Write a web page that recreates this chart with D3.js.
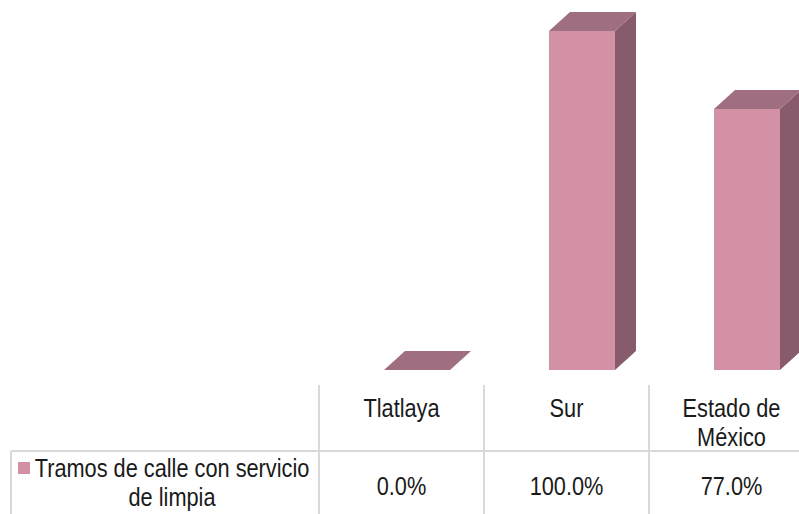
<!DOCTYPE html>
<html>
<head>
<meta charset="utf-8">
<script src="https://cdn.jsdelivr.net/npm/d3@7"></script>
<style>
  html, body { margin: 0; padding: 0; background: #ffffff; }
  svg { display: block; }
  text { font-family: "Liberation Sans", Arial, sans-serif; fill: #1a1a1a; }
</style>
</head>
<body>
<script>
// Categories, series and label text
const categories = ["Tlatlaya", "Sur", "Estado de México"];
const headerLines = [["Tlatlaya"], ["Sur"], ["Estado de", "México"]];
const seriesName = ["Tramos de calle con servicio", "de limpia"];
const values = [0.0, 1.0, 0.77];

const W = 799, H = 514;
const svg = d3.select("body").append("svg").attr("width", W).attr("height", H);

// Table columns (one per category)
const xCol = d3.scaleBand().domain(categories).range([319, 814]);
// Bars sit inside each column, shifted by the 3D floor offset
const barOffset = 65, barW = 66;
const y = d3.scaleLinear().domain([0, 1]).range([370, 31]);
const depth = { dx: 21, dy: -19 };

const cFront = "#d391a6", cTop = "#9f6e80", cSide = "#875b6b";

const bars = svg.append("g").selectAll("g").data(categories).join("g");
bars.each(function (c, i) {
  const g = d3.select(this);
  const x0 = xCol(c) + barOffset, x1 = x0 + barW;
  const yt = y(values[i]), yb = y(0);
  const { dx, dy } = depth;
  if (yb - yt > 0.5) {
    g.append("path")
      .attr("d", `M${x1},${yt}L${x1 + dx},${yt + dy}L${x1 + dx},${yb + dy}L${x1},${yb}Z`)
      .attr("fill", cSide);
    g.append("rect")
      .attr("x", x0).attr("y", yt).attr("width", barW).attr("height", yb - yt)
      .attr("fill", cFront);
  }
  g.append("path")
    .attr("d", `M${x0},${yt}L${x0 + dx},${yt + dy}L${x1 + dx},${yt + dy}L${x1},${yt}Z`)
    .attr("fill", cTop);
});

// Data table grid
const grid = svg.append("g").attr("stroke", "#d9d9d9").attr("stroke-width", 2).attr("fill", "none");
categories.forEach(c => {
  grid.append("line").attr("x1", xCol(c)).attr("x2", xCol(c)).attr("y1", 385).attr("y2", H);
});
grid.append("line").attr("x1", 11).attr("x2", W).attr("y1", 451).attr("y2", 451);
grid.append("line").attr("x1", 11).attr("x2", 11).attr("y1", 451).attr("y2", H);

const fs = 25, sx = 0.87;
function label(g, x, yy, str) {
  g.append("text")
    .attr("transform", `translate(${x},${yy}) scale(${sx},1)`)
    .attr("text-anchor", "middle")
    .attr("font-size", fs)
    .text(str);
}

// Column headers
const head = svg.append("g");
categories.forEach((c, i) => {
  const cx = xCol(c) + xCol.bandwidth() / 2;
  headerLines[i].forEach((ln, k) => label(head, cx, 417 + k * 29, ln));
});

// Values row
const fmt = d3.format(".1%");
const row = svg.append("g");
categories.forEach((c, i) => {
  label(row, xCol(c) + xCol.bandwidth() / 2, 495, fmt(values[i]));
});

// Series legend key and name
const leg = svg.append("g");
leg.append("rect").attr("x", 18).attr("y", 462).attr("width", 12).attr("height", 12).attr("fill", cFront);
seriesName.forEach((ln, k) => label(leg, 172, 477 + k * 29, ln));
</script>
</body>
</html>
